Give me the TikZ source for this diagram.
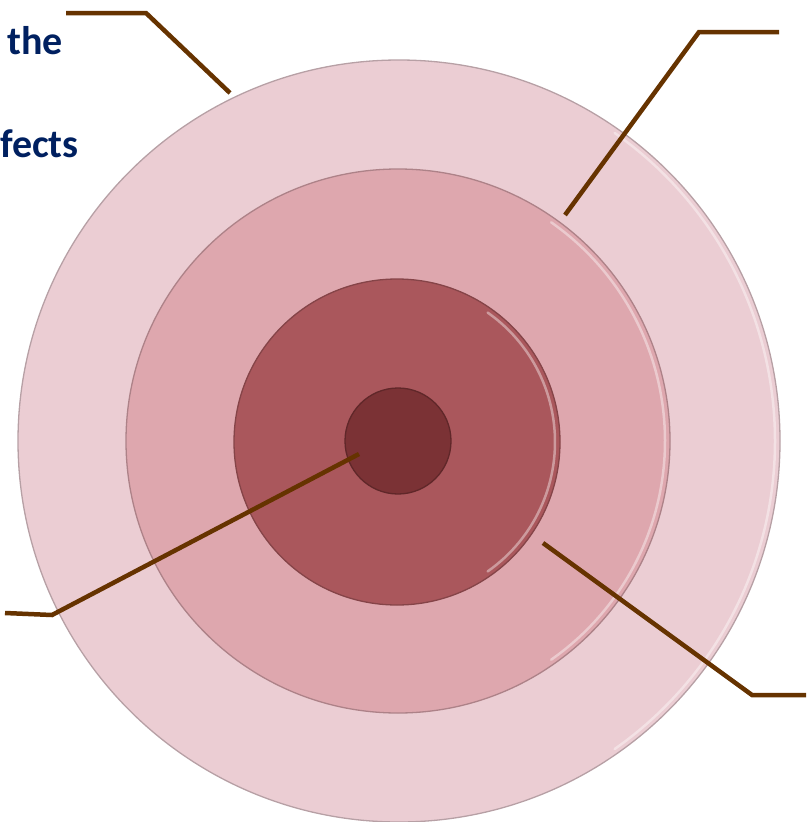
\documentclass[tikz,border=0pt]{standalone}
\usepackage{fontspec}
\setmainfont{Carlito}
\usetikzlibrary{positioning}
\definecolor{ringouter}{RGB}{235,205,211}
\definecolor{ringsecond}{RGB}{222,167,174}
\definecolor{ringthird}{RGB}{170,87,92}
\definecolor{ringcore}{RGB}{123,50,53}
\definecolor{leaderbrown}{RGB}{102,51,0}
\definecolor{labelnavy}{RGB}{0,32,96}
\tikzset{
  ring-node/.style={circle, fill=#1, draw=#1!78!black, line width=1.3pt,
    inner sep=0pt, outer sep=0pt},
  rim-line/.style={draw=white, opacity=0.4, line width=2.5pt, line cap=round},
  leader-line/.style={draw=leaderbrown, line width=4.5pt, line join=miter},
  label-text/.style={font=\fontsize{40}{48}\selectfont\bfseries, text=labelnavy,
    inner sep=0pt}
}
\begin{document}
\begin{tikzpicture}[x=1pt, y=-1pt]
\useasboundingbox (0,0) rectangle (806,822);

% Rings, outer to inner
\node[ring-node=ringouter, minimum size=762pt] (outer) at (399,441) {};
\draw[rim-line] ([shift={(-55:376pt)}]outer.center) arc (-55:55:376pt);
\node[ring-node=ringsecond, minimum size=544pt] (second) at (398,441) {};
\draw[rim-line] ([shift={(-55:267pt)}]second.center) arc (-55:55:267pt);
\node[ring-node=ringthird, minimum size=326pt] (third) at (397,442) {};
\draw[rim-line] ([shift={(-55:158pt)}]third.center) arc (-55:55:158pt);
\node[ring-node=ringcore, minimum size=106pt] (core) at (398,441) {};

% Labels (cut at the left edge)
\node[label-text, anchor=base east] (lbl-the) at (63,54) {the};
\node[label-text, anchor=base east] (lbl-fects) at (79,157) {fects};

% Leader line ends
\coordinate (outer-tip) at (230,93);
\coordinate (outer-bend) at (146,13);
\coordinate (outer-end) at (66,13);
\coordinate (second-tip) at (565,215);
\coordinate (second-bend) at (699,32);
\coordinate (second-end) at (779,32);
\coordinate (core-tip) at (359,454);
\coordinate (core-bend) at (52,615);
\coordinate (core-end) at (5,613);
\coordinate (third-tip) at (543,543);
\coordinate (third-bend) at (752,695);
\coordinate (third-end) at (806,695);

% Leader lines
\draw[leader-line] (outer-tip) -- (outer-bend) -- (outer-end);
\draw[leader-line] (second-tip) -- (second-bend) -- (second-end);
\draw[leader-line] (core-tip) -- (core-bend) -- (core-end);
\draw[leader-line] (third-tip) -- (third-bend) -- (third-end);
\end{tikzpicture}
\end{document}
